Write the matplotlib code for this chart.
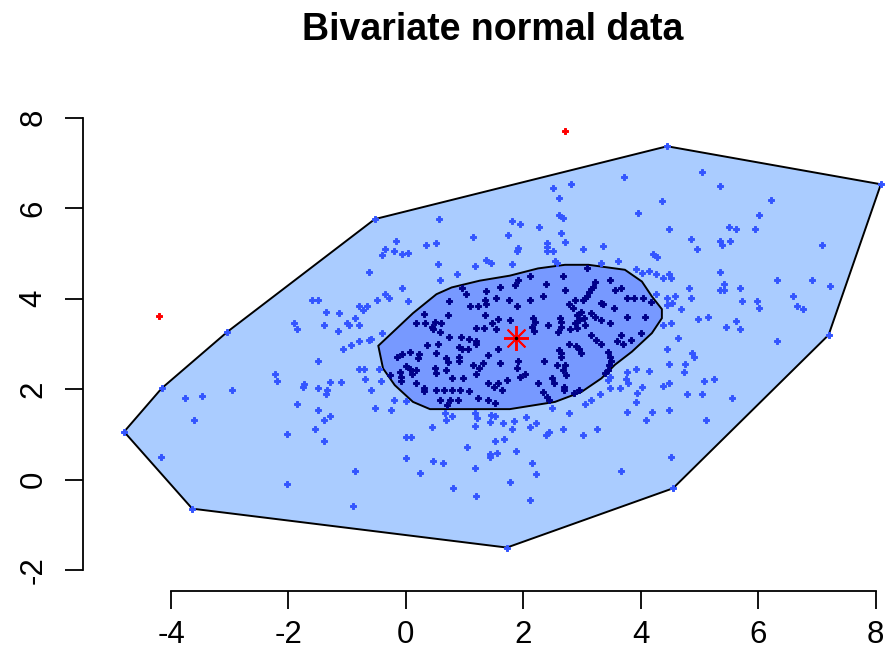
import numpy as np
import matplotlib
matplotlib.use("Agg")
import matplotlib.pyplot as plt
from matplotlib.patches import Polygon

plt.rcParams['font.family'] = ['Liberation Sans', 'DejaVu Sans']
plt.rcParams['axes.unicode_minus'] = False

# fence (loop) and bag hulls
loop_hull = [(-4.80, 1.06), (-3.64, -0.64), (1.72, -1.50), (4.55, -0.19), (7.20, 3.20),
             (8.09, 6.53), (4.45, 7.37), (-0.53, 5.76), (-3.04, 3.27), (-4.16, 2.02)]

bag_hull = [(-0.47, 2.96), (-0.39, 2.46), (-0.19, 2.09), (0.12, 1.72), (0.41, 1.56),
            (1.77, 1.56), (2.54, 1.72), (2.99, 1.94), (3.33, 2.24), (3.56, 2.54),
            (3.85, 2.83), (4.19, 3.24), (4.36, 3.57), (4.36, 3.77), (4.19, 4.05),
            (4.02, 4.38), (3.73, 4.64), (3.11, 4.75), (2.71, 4.75), (2.25, 4.67),
            (1.77, 4.51), (1.26, 4.40), (0.78, 4.25), (0.52, 4.10), (0.12, 3.68)]

# points between bag and fence
loop_pts = [
    (-0.17, 5.27), (-0.36, 5.10), (-0.20, 5.06), (-0.40, 4.97), (-0.63, 4.59), (-1.60, 3.97),
    (-1.49, 3.97), (-0.36, 4.11), (-0.29, 4.02), (-0.50, 3.97), (-0.80, 3.85), (-0.67, 3.85),
    (-0.73, 3.75), (-1.36, 3.71), (-1.14, 3.68), (-0.86, 3.58), (-1.01, 3.47), (-0.97, 3.41),
    (-0.80, 3.41), (-1.90, 3.47), (-1.86, 3.33), (-1.40, 3.41), (-1.16, 3.29), (-0.40, 3.24),
    (-0.80, 3.07), (-0.63, 3.09), (-0.60, 3.12), (-0.93, 2.98), (-1.07, 2.90),
    (-1.49, 2.62), (-2.23, 2.33), (-2.19, 2.19), (-1.76, 2.06), (-1.74, 2.11), (-1.49, 2.02),
    (-1.35, 1.98), (-1.36, 1.89), (-1.29, 2.15), (-1.10, 2.15), (-0.80, 2.45), (-0.72, 2.45),
    (-0.45, 2.45), (-0.69, 2.23), (-0.43, 2.19), (-0.60, 1.98), (-0.20, 1.76), (-0.53, 1.58),
    (-0.26, 1.54), (-2.97, 1.98), (-3.47, 1.85), (-3.76, 1.80), (-3.61, 1.32), (-1.86, 1.67),
    (-1.49, 1.54), (-1.29, 1.41), (-1.40, 1.32), (-1.55, 1.11), (-2.03, 1.02), (-1.40, 0.85),
    (-4.17, 0.50), (-0.87, 0.19), (-2.03, -0.10), (-0.90, -0.58),
    (0.00, 1.74), (0.44, 1.16), (0.01, 0.94), (0.08, 0.94), (0.00, 0.47), (0.24, 0.15),
    (0.47, 0.42), (0.64, 0.37), (1.04, 0.72), (0.81, -0.19), (1.20, -0.36), (1.18, 0.25),
    (1.44, 0.57), (1.43, 0.51), (1.55, 0.60), (1.52, 0.85), (1.67, 0.90), (1.18, 1.19),
    (0.66, 1.47), (0.78, 1.41), (0.69, 1.33), (1.18, 1.47), (1.21, 1.37), (1.45, 1.43),
    (1.52, 1.41), (1.44, 1.28), (1.65, 1.25), (1.84, 1.30), (1.81, 1.11), (1.87, 0.64),
    (1.77, -0.06), (2.14, 0.37), (2.21, 0.12), (2.11, -0.45), (2.04, 1.38), (2.21, 1.25),
    (2.11, 1.16), (2.39, 0.99), (2.44, 1.06), (2.48, 1.59), (2.68, 1.12), (2.78, 1.47),
    (3.01, 0.99), (3.25, 1.12), (3.05, 1.67), (3.15, 1.76), (3.30, 1.89), (3.48, 2.02),
    (3.65, 2.02), (3.45, 2.20), (3.48, 2.26), (3.75, 2.22), (3.76, 2.37), (3.79, 2.13),
    (3.92, 2.45), (3.77, 1.50), (3.94, 1.91), (3.92, 1.72), (4.02, 2.06), (4.14, 2.40),
    (4.19, 1.50), (4.09, 1.33), (3.67, 0.20), (4.38, 2.07), (4.48, 2.14), (4.48, 1.54),
    (4.51, 0.51), (4.44, 2.89), (4.48, 2.55), (4.64, 3.13),
    (6.32, 3.07), (4.88, 2.81), (4.91, 2.72), (4.75, 2.55), (4.74, 2.37), (5.08, 2.19),
    (5.25, 2.23), (4.78, 1.89), (5.05, 1.89), (5.55, 1.80), (5.11, 1.33),
    (5.05, 6.80), (5.35, 6.50), (4.36, 6.15), (6.22, 6.19), (6.02, 5.84), (4.48, 5.54),
    (5.51, 5.59), (5.62, 5.54), (5.95, 5.54), (4.85, 5.32), (4.95, 5.10), (5.35, 5.28),
    (5.38, 5.19), (5.52, 5.28), (7.09, 5.19), (5.35, 4.59), (6.32, 4.41), (6.92, 4.41),
    (7.22, 4.28), (4.48, 4.54), (4.51, 4.45), (4.38, 4.45), (4.82, 4.24), (4.85, 4.02),
    (5.35, 4.19), (5.42, 4.33), (5.42, 4.19), (5.69, 4.24), (4.44, 4.02), (4.58, 4.06),
    (4.54, 3.90), (4.45, 3.86), (4.68, 3.77), (5.72, 3.94), (5.98, 3.94), (6.02, 3.80),
    (6.59, 4.06), (6.66, 3.85), (6.76, 3.77), (4.98, 3.55), (5.15, 3.59), (5.62, 3.50),
    (5.69, 3.33), (5.45, 3.37), (4.38, 3.41), (4.51, 3.46),
    (3.71, 6.70), (2.51, 6.44), (2.81, 6.53), (2.61, 6.22), (3.95, 5.89), (2.61, 5.85),
    (2.68, 5.79), (0.57, 5.76), (1.81, 5.71), (1.94, 5.65), (2.27, 5.58), (2.64, 5.45),
    (1.74, 5.41), (1.14, 5.36), (2.71, 5.26), (0.51, 5.24), (0.34, 5.19), (2.40, 5.23),
    (2.41, 5.15), (2.40, 5.06), (2.51, 5.06), (1.91, 5.12), (1.89, 5.06), (3.01, 5.10),
    (3.35, 5.17), (-0.06, 4.98), (0.04, 5.02), (4.21, 4.98), (4.27, 4.93), (1.37, 4.86),
    (1.45, 4.80), (0.54, 4.76), (1.18, 4.73), (1.81, 4.76), (2.54, 4.84), (2.57, 4.79),
    (3.62, 4.84), (3.32, 4.78), (3.92, 4.65), (4.02, 4.56), (4.14, 4.62), (4.26, 4.55),
    (0.87, 4.54), (0.58, 4.42), (-0.06, 4.23), (0.04, 3.94), (4.26, 4.11),
]

# points inside the bag
bag_pts = [
    (0.95, 4.23), (1.03, 4.10), (1.37, 4.16), (1.60, 4.27), (1.86, 4.31), (1.35, 3.97),
    (1.37, 3.88), (1.54, 4.01), (1.76, 3.97), (1.89, 3.83), (0.74, 3.94), (1.09, 3.85),
    (1.22, 3.85), (0.72, 3.64), (0.31, 3.66), (0.49, 3.49), (0.59, 3.46), (0.44, 3.38),
    (0.18, 3.46), (0.32, 3.46), (0.47, 3.33), (1.35, 3.64), (1.57, 3.55), (1.77, 3.54),
    (1.46, 3.46), (1.19, 3.35), (1.33, 3.36), (1.54, 3.33), (0.58, 3.27), (0.74, 3.16),
    (0.94, 3.16), (1.08, 3.12), (1.20, 3.07), (0.36, 2.98), (0.55, 3.01), (0.91, 2.94),
    (0.95, 2.88), (1.06, 2.89), (1.19, 2.99), (0.07, 2.83), (0.23, 2.77), (0.21, 2.70),
    (0.51, 2.79), (0.69, 2.70), (0.71, 2.61), (0.91, 2.72), (0.91, 2.62), (1.40, 2.76),
    (1.57, 2.89), (-0.16, 2.72), (-0.06, 2.77), (1.14, 2.54), (1.25, 2.48), (1.32, 2.59),
    (1.61, 2.59), (1.89, 2.46), (0.01, 2.52), (0.07, 2.45), (0.17, 2.42), (0.11, 2.34),
    (-0.10, 2.39), (-0.09, 2.28), (-0.09, 2.18), (-0.27, 2.31), (0.49, 2.46), (0.51, 2.35),
    (0.69, 2.42), (0.78, 2.25), (0.98, 2.24), (1.20, 2.33), (1.40, 2.14), (1.50, 2.06),
    (1.57, 2.13), (1.63, 1.98), (1.73, 2.20), (0.30, 2.02), (0.31, 1.95), (0.51, 1.98),
    (0.65, 1.98), (0.79, 1.98), (0.92, 1.98), (1.08, 1.95), (0.58, 1.76), (0.75, 1.76),
    (0.89, 1.76), (0.70, 1.65), (1.23, 1.80), (1.40, 1.76), (1.52, 1.69), (0.18, 2.13),
    (1.91, 4.42), (2.11, 4.51), (2.38, 4.33), (2.68, 4.50), (2.71, 4.19), (3.08, 4.67),
    (3.22, 4.38), (3.19, 4.27), (3.15, 4.21), (3.12, 4.14), (3.08, 4.07), (3.05, 4.01),
    (3.02, 3.97), (3.48, 4.42), (3.56, 4.19), (3.66, 4.23), (2.11, 3.97), (2.34, 4.07),
    (2.88, 3.97), (2.77, 3.88), (2.85, 3.79), (3.36, 3.88), (3.32, 3.91), (3.55, 3.79),
    (3.76, 4.01), (3.89, 4.02), (4.04, 4.01), (4.17, 3.92), (2.17, 3.57), (2.20, 3.49),
    (2.15, 3.38), (2.19, 3.29), (2.42, 3.42), (2.62, 3.58), (2.65, 3.49), (2.64, 3.38),
    (2.59, 3.27), (2.91, 3.64), (2.99, 3.71), (3.04, 3.58), (2.94, 3.53), (2.88, 3.46),
    (3.16, 3.68), (3.22, 3.60), (3.33, 3.54), (2.79, 3.33), (2.91, 3.35), (3.05, 3.41),
    (3.48, 3.46), (3.76, 3.60), (4.07, 3.60), (4.01, 3.24), (3.16, 3.20), (3.23, 3.09),
    (3.32, 2.99), (3.45, 2.83), (3.59, 3.07), (3.67, 3.20), (3.69, 3.01), (3.84, 3.09),
    (2.77, 2.99), (2.90, 2.96), (2.94, 2.90), (2.99, 2.79), (2.61, 2.87), (2.65, 2.79),
    (2.64, 2.72), (3.48, 2.72), (3.49, 2.62), (3.46, 2.53), (3.44, 2.42), (3.39, 2.35),
    (2.36, 2.62), (2.58, 2.53), (2.71, 2.53), (2.68, 2.42), (2.72, 2.31), (2.49, 2.24),
    (2.53, 2.13), (1.91, 2.62), (2.03, 2.33), (1.94, 2.28), (2.25, 2.13), (2.34, 1.94),
    (2.40, 1.83), (2.44, 1.76), (2.70, 2.06), (2.70, 1.98), (2.87, 1.91), (2.94, 1.98),
]

outliers = [(-4.20, 3.62), (2.71, 7.70)]
center = (1.88, 3.13)

W, H = 885, 662
fig = plt.figure(figsize=(W / 100, H / 100), dpi=100)
# plot region in pixels: left 83, right 902, top 87, bottom 591
ax = fig.add_axes([83 / W, (H - 591) / H, (902 - 83) / W, (591 - 87) / H])
ax.set_xlim(-5.50, 8.45)
ax.set_ylim(-2.46, 8.68)

ax.add_patch(Polygon(loop_hull, closed=True, facecolor='#aaccff', edgecolor='black', lw=1.4, zorder=1))
ax.add_patch(Polygon(bag_hull, closed=True, facecolor='#7799ff', edgecolor='black', lw=1.4, zorder=2))

lp = np.array(loop_pts + loop_hull)
bp = np.array(bag_pts)
op = np.array(outliers)
ms = 5.0
ax.plot(lp[:, 0], lp[:, 1], 'P', color='#3355ff', ms=ms, mew=0.7, zorder=3, clip_on=False)
ax.plot(bp[:, 0], bp[:, 1], 'P', color='#000088', ms=ms, mew=0.7, zorder=4)
ax.plot(op[:, 0], op[:, 1], 'P', color='red', ms=ms, mew=0.7, zorder=5)
ax.plot([center[0]], [center[1]], marker=(8, 2, 0), color='red', ms=18, mew=1.4, zorder=6)
ax.plot([center[0]], [center[1]], 'o', color='black', ms=1.5, zorder=7)

for s in ['top', 'right']:
    ax.spines[s].set_visible(False)
ax.spines['left'].set_bounds(-2, 8)
ax.spines['bottom'].set_bounds(-4, 8)
for s in ['left', 'bottom']:
    ax.spines[s].set_linewidth(1.3)

ax.set_xticks([-4, -2, 0, 2, 4, 6, 8])
ax.set_yticks([-2, 0, 2, 4, 6, 8])
ax.tick_params(direction='out', length=13, width=1.3, labelsize=22.5, pad=8)
ax.tick_params(axis='y', labelrotation=90, pad=12)
for lab in ax.get_yticklabels():
    lab.set_va('center')
ax.set_facecolor('none')

fig.text(492.5 / W, (H - 40) / H, 'Bivariate normal data', ha='center', va='baseline',
         fontsize=27, fontweight='bold')

fig.savefig('out.png', dpi=100)
